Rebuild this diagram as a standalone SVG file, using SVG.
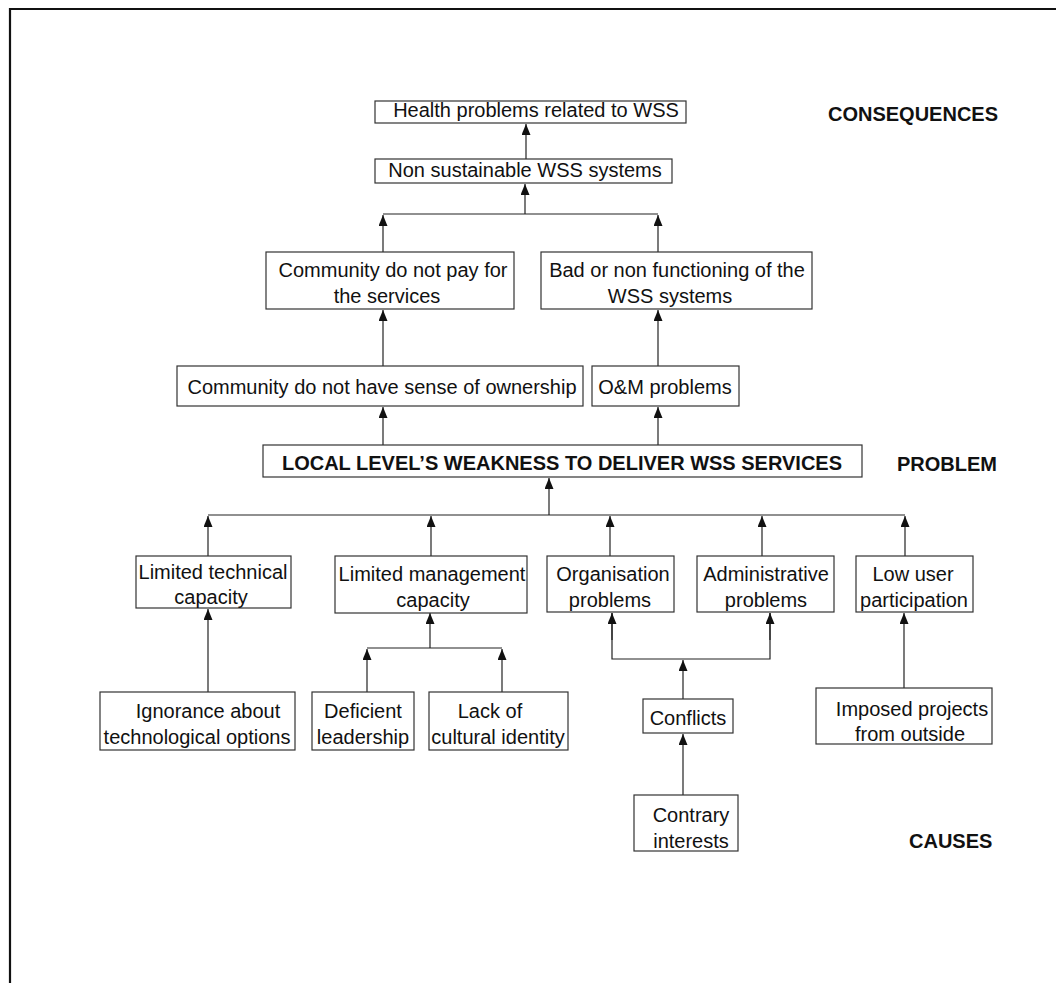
<svg xmlns="http://www.w3.org/2000/svg" width="1056" height="983" viewBox="0 0 1056 983">
<style>
.box{fill:#fff;stroke:#333;stroke-width:1.2}
.t{font-family:"Liberation Sans",Arial,sans-serif;font-size:20px;fill:#111;text-anchor:middle}
.b{font-family:"Liberation Sans",Arial,sans-serif;font-size:20px;font-weight:bold;fill:#111}
.c{fill:none;stroke:#222;stroke-width:1.2}
</style>
<defs>
<marker id="ah" markerUnits="userSpaceOnUse" markerWidth="12" markerHeight="10" refX="11" refY="4.5" orient="auto">
<path d="M0,0 L11,4.5 L0,9 z" fill="#111"/>
</marker>
</defs>
<rect width="1056" height="983" fill="#fff"/>
<g id="frame">
<path d="M10,983 V9 H1056" fill="none" stroke="#111" stroke-width="2.2"/>
</g>
<g id="labels">
<text class="b" x="828" y="121">CONSEQUENCES</text>
<text class="b" x="897" y="471">PROBLEM</text>
<text class="b" x="909" y="848">CAUSES</text>
</g>
<g id="connectors">
<line class="c" x1="526" y1="159" x2="526" y2="124" marker-end="url(#ah)"/>
<line class="c" x1="525" y1="214" x2="525" y2="184" marker-end="url(#ah)"/>
<line class="c" x1="383" y1="214" x2="658" y2="214"/>
<line class="c" x1="383" y1="252" x2="383" y2="215" marker-end="url(#ah)"/>
<line class="c" x1="658" y1="252" x2="658" y2="215" marker-end="url(#ah)"/>
<line class="c" x1="383" y1="366" x2="383" y2="310" marker-end="url(#ah)"/>
<line class="c" x1="658" y1="366" x2="658" y2="310" marker-end="url(#ah)"/>
<line class="c" x1="383" y1="445" x2="383" y2="407" marker-end="url(#ah)"/>
<line class="c" x1="658" y1="445" x2="658" y2="407" marker-end="url(#ah)"/>
<line class="c" x1="549" y1="515" x2="549" y2="478" marker-end="url(#ah)"/>
<line class="c" x1="208" y1="515" x2="905" y2="515"/>
<line class="c" x1="208" y1="556" x2="208" y2="516" marker-end="url(#ah)"/>
<line class="c" x1="431" y1="556" x2="431" y2="516" marker-end="url(#ah)"/>
<line class="c" x1="610" y1="556" x2="610" y2="516" marker-end="url(#ah)"/>
<line class="c" x1="762" y1="556" x2="762" y2="516" marker-end="url(#ah)"/>
<line class="c" x1="905" y1="556" x2="905" y2="516" marker-end="url(#ah)"/>
<line class="c" x1="208" y1="692" x2="208" y2="609" marker-end="url(#ah)"/>
<line class="c" x1="430" y1="648" x2="430" y2="613" marker-end="url(#ah)"/>
<line class="c" x1="367" y1="648" x2="502" y2="648"/>
<line class="c" x1="367" y1="692" x2="367" y2="649" marker-end="url(#ah)"/>
<line class="c" x1="502" y1="692" x2="502" y2="649" marker-end="url(#ah)"/>
<polyline class="c" points="612,613 612,659 770,659 770,613"/>
<line class="c" x1="612" y1="640" x2="612" y2="613" marker-end="url(#ah)"/>
<line class="c" x1="770" y1="640" x2="770" y2="613" marker-end="url(#ah)"/>
<line class="c" x1="683" y1="699" x2="683" y2="660" marker-end="url(#ah)"/>
<line class="c" x1="683" y1="795" x2="683" y2="734" marker-end="url(#ah)"/>
<line class="c" x1="904" y1="688" x2="904" y2="613" marker-end="url(#ah)"/>
</g>
<g id="n-health">
<rect class="box" x="375" y="101" width="311" height="22"/>
<text class="t" x="536" y="117">Health problems related to WSS</text>
</g>
<g id="n-nonsustainable">
<rect class="box" x="375" y="159" width="297" height="24"/>
<text class="t" x="525" y="177">Non sustainable WSS systems</text>
</g>
<g id="n-pay">
<rect class="box" x="266" y="252" width="248" height="57"/>
<text class="t" x="393" y="277">Community do not pay for</text>
<text class="t" x="387" y="303">the services</text>
</g>
<g id="n-bad">
<rect class="box" x="541" y="252" width="271" height="57"/>
<text class="t" x="677" y="277">Bad or non functioning of the</text>
<text class="t" x="670" y="303">WSS systems</text>
</g>
<g id="n-ownership">
<rect class="box" x="177" y="366" width="406" height="40"/>
<text class="t" x="382" y="394">Community do not have sense of ownership</text>
</g>
<g id="n-om">
<rect class="box" x="592" y="366" width="147" height="40"/>
<text class="t" x="665" y="394">O&amp;M problems</text>
</g>
<g id="n-local">
<rect class="box" x="263" y="445" width="599" height="32"/>
<text class="b" x="562" y="470" text-anchor="middle">LOCAL LEVEL’S WEAKNESS TO DELIVER WSS SERVICES</text>
</g>
<g id="n-technical">
<rect class="box" x="136" y="556" width="155" height="52"/>
<text class="t" x="213" y="579">Limited technical</text>
<text class="t" x="211" y="604">capacity</text>
</g>
<g id="n-management">
<rect class="box" x="335" y="556" width="192" height="57"/>
<text class="t" x="432" y="581">Limited management</text>
<text class="t" x="433" y="607">capacity</text>
</g>
<g id="n-organisation">
<rect class="box" x="547" y="556" width="127" height="56"/>
<text class="t" x="613" y="581">Organisation</text>
<text class="t" x="610" y="607">problems</text>
</g>
<g id="n-administrative">
<rect class="box" x="697" y="556" width="137" height="56"/>
<text class="t" x="766" y="581">Administrative</text>
<text class="t" x="766" y="607">problems</text>
</g>
<g id="n-lowuser">
<rect class="box" x="856" y="556" width="117" height="56"/>
<text class="t" x="913" y="581">Low user</text>
<text class="t" x="914" y="607">participation</text>
</g>
<g id="n-ignorance">
<rect class="box" x="100" y="692" width="195" height="58"/>
<text class="t" x="208" y="718">Ignorance about</text>
<text class="t" x="197" y="744">technological options</text>
</g>
<g id="n-deficient">
<rect class="box" x="312" y="692" width="102" height="58"/>
<text class="t" x="363" y="718">Deficient</text>
<text class="t" x="363" y="744">leadership</text>
</g>
<g id="n-lack">
<rect class="box" x="429" y="692" width="139" height="58"/>
<text class="t" x="490" y="718">Lack of</text>
<text class="t" x="498" y="744">cultural identity</text>
</g>
<g id="n-conflicts">
<rect class="box" x="643" y="699" width="90" height="34"/>
<text class="t" x="688" y="725">Conflicts</text>
</g>
<g id="n-contrary">
<rect class="box" x="634" y="795" width="104" height="56"/>
<text class="t" x="691" y="822">Contrary</text>
<text class="t" x="691" y="848">interests</text>
</g>
<g id="n-imposed">
<rect class="box" x="816" y="688" width="176" height="56"/>
<text class="t" x="912" y="716">Imposed projects</text>
<text class="t" x="910" y="741">from outside</text>
</g>
</svg>
